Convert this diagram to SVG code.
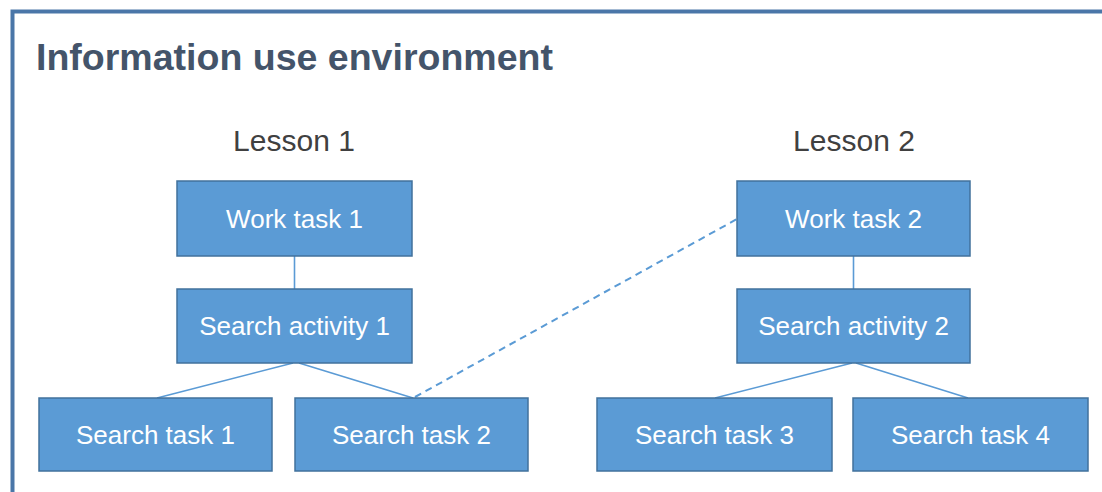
<svg xmlns="http://www.w3.org/2000/svg" width="1102" height="492" viewBox="0 0 1102 492">
<style>
.box{fill:#5b9bd5;stroke:#41719c;stroke-width:1.5}
.bt{font-family:"Liberation Sans",Arial,sans-serif;font-size:26px;fill:#ffffff;text-anchor:middle}
.lesson{font-family:"Liberation Sans",Arial,sans-serif;font-size:30px;fill:#404040;text-anchor:middle}
.con{stroke:#5b9bd5;stroke-width:1.6;fill:none}
.dash{stroke:#5b9bd5;stroke-width:2;fill:none;stroke-dasharray:7 5}
</style>
<rect width="1102" height="492" fill="#ffffff"/>
<rect x="12.5" y="11.5" width="1200" height="600" fill="none" stroke="#4a76a8" stroke-width="4"/>
<text x="36" y="70" font-family="'Liberation Sans',Arial,sans-serif" font-weight="bold" font-size="37" fill="#44546a" textLength="517" lengthAdjust="spacingAndGlyphs">Information use environment</text>
<text class="lesson" x="294" y="151">Lesson 1</text>
<text class="lesson" x="854" y="151">Lesson 2</text>
<g id="connectors">
<line class="con" x1="294.5" y1="256" x2="294.5" y2="289"/>
<line class="con" x1="293" y1="363" x2="157" y2="398"/>
<line class="con" x1="299" y1="363" x2="413" y2="398"/>
<line class="con" x1="853.5" y1="256" x2="853.5" y2="289"/>
<line class="con" x1="852" y1="363" x2="715" y2="398"/>
<line class="con" x1="856" y1="363" x2="968" y2="398"/>
<line class="dash" x1="415" y1="397" x2="737" y2="219"/>
</g>
<g id="work1"><rect class="box" x="177" y="181" width="235" height="75"/><text class="bt" x="294.5" y="227.5">Work task 1</text></g>
<g id="activity1"><rect class="box" x="177" y="289" width="235" height="74"/><text class="bt" x="294.5" y="335">Search  activity 1</text></g>
<g id="stask1"><rect class="box" x="39" y="398" width="233" height="73"/><text class="bt" x="155.5" y="443.5">Search  task 1</text></g>
<g id="stask2"><rect class="box" x="295" y="398" width="233" height="73"/><text class="bt" x="411.5" y="443.5">Search  task 2</text></g>
<g id="work2"><rect class="box" x="737" y="181" width="233" height="75"/><text class="bt" x="853.5" y="227.5">Work task 2</text></g>
<g id="activity2"><rect class="box" x="737" y="289" width="233" height="74"/><text class="bt" x="853.5" y="335">Search  activity 2</text></g>
<g id="stask3"><rect class="box" x="597" y="398" width="235" height="73"/><text class="bt" x="714.5" y="443.5">Search  task 3</text></g>
<g id="stask4"><rect class="box" x="853" y="398" width="235" height="73"/><text class="bt" x="970.5" y="443.5">Search  task 4</text></g>
</svg>
